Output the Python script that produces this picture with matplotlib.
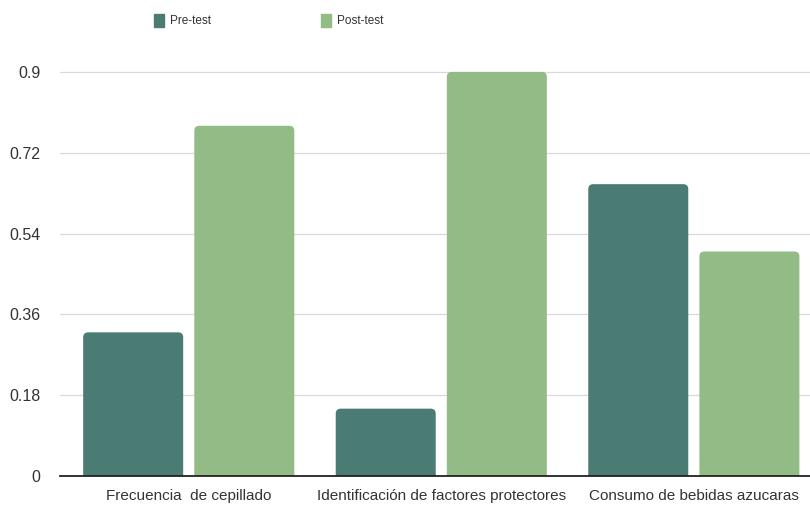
import numpy as np
import matplotlib
matplotlib.use("Agg")
import matplotlib.pyplot as plt
from matplotlib.patches import FancyBboxPatch, Patch

# Data
categories = [
    "Frecuencia  de cepillado",
    "Identificación de factores protectores",
    "Consumo de bebidas azucaras",
]
pre_test = [0.32, 0.15, 0.65]
post_test = [0.78, 0.90, 0.50]
y_ticks = [0, 0.18, 0.36, 0.54, 0.72, 0.9]
y_tick_labels = ["0", "0.18", "0.36", "0.54", "0.72", "0.9"]
series_names = ["Pre-test", "Post-test"]

PRE_COLOR = "#4b7c74"
POST_COLOR = "#93bb85"
TEXT_COLOR = "#333333"

plt.rcParams["font.family"] = ["Liberation Sans", "DejaVu Sans"]

fig = plt.figure(figsize=(8.1, 5.05), dpi=100)
ax = fig.add_axes([0.074, 0.0574, 0.926, 0.818])

x = np.arange(len(categories))
width = 0.396
offset = 0.22

bars_pre = ax.bar(x - offset, pre_test, width, color=PRE_COLOR, zorder=3)
bars_post = ax.bar(x + offset, post_test, width, color=POST_COLOR, zorder=3)

ax.set_xlim(-0.51, 2.46)
ax.set_ylim(0, 0.92)

# swap the plain rectangles for ones with rounded top corners
rx, ry = 0.02, 0.0111
for rect in list(bars_pre) + list(bars_post):
    x0, y0 = rect.get_xy()
    w, h = rect.get_width(), rect.get_height()
    rounded = FancyBboxPatch(
        (x0, y0 - 2 * ry), w, h + 2 * ry,
        boxstyle=f"round,pad=0,rounding_size={rx}",
        mutation_aspect=ry / rx,
        facecolor=rect.get_facecolor(), edgecolor="none", zorder=3,
    )
    ax.add_patch(rounded)
    rect.set_visible(False)

ax.set_yticks(y_ticks)
ax.set_yticklabels(y_tick_labels)
ax.set_xticks(x)
ax.set_xticklabels(categories)
ax.tick_params(axis="both", length=0, labelsize=11, labelcolor=TEXT_COLOR)
ax.tick_params(axis="y", labelsize=11.5, pad=14)
ax.tick_params(axis="x", pad=9)

ax.grid(axis="y", color="#d9d9d9", linewidth=0.9, zorder=0)
ax.set_axisbelow(True)
for side in ["top", "right", "left"]:
    ax.spines[side].set_visible(False)
ax.spines["bottom"].set_color("#222222")
ax.spines["bottom"].set_linewidth(1.3)
ax.spines["bottom"].set_zorder(5)

handles = [Patch(color=PRE_COLOR), Patch(color=POST_COLOR)]
fig.legend(
    handles, series_names, loc="center", bbox_to_anchor=(0.332, 1 - 20.5 / 505),
    ncol=2, frameon=False, fontsize=8.5, handlelength=0.85, handleheight=1.3,
    handletextpad=0.5, columnspacing=9.3, labelcolor=TEXT_COLOR,
)

fig.savefig("out.png", dpi=100)
